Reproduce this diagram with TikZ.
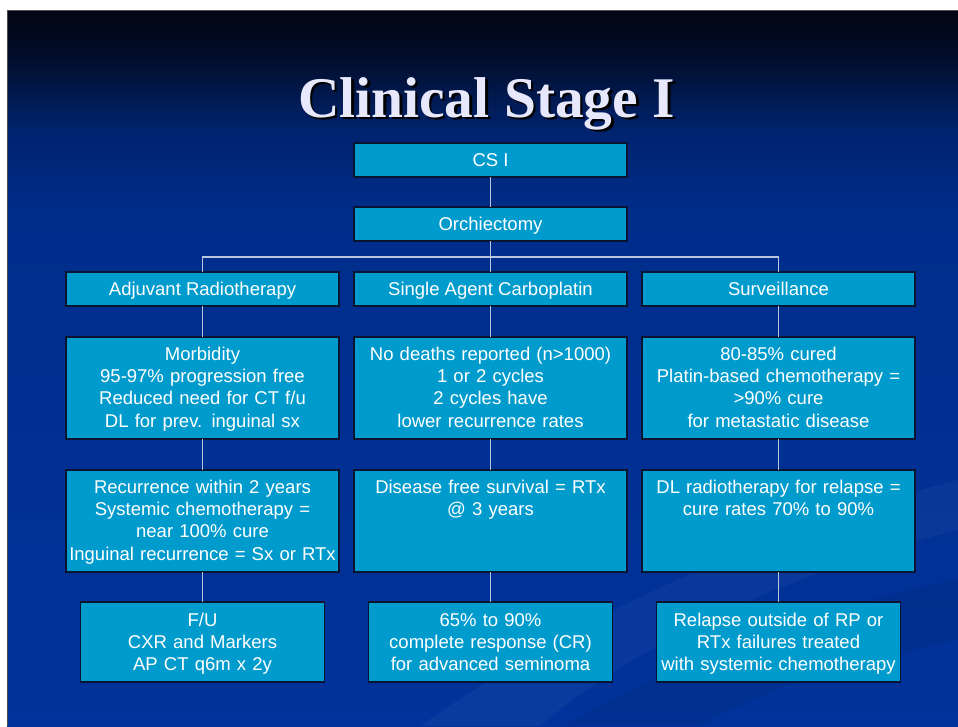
\documentclass[tikz,border=0pt]{standalone}
\usepackage{fontspec}
\setmainfont{Liberation Sans}
\newfontfamily\titlefont{Liberation Serif}
\usetikzlibrary{positioning}

\definecolor{boxblue}{RGB}{0,155,205}
\definecolor{boxline}{RGB}{8,20,50}
\definecolor{linkgray}{RGB}{185,196,222}
\definecolor{titlelav}{RGB}{232,232,252}
\definecolor{bgA}{RGB}{0,51,155}
\definecolor{bgB}{RGB}{0,45,140}
\definecolor{bgC}{RGB}{0,35,110}
\definecolor{bgD}{RGB}{2,14,45}
\definecolor{bgE}{RGB}{2,5,18}
\pgfdeclareverticalshading{slidebg}{100bp}{color(0bp)=(bgA); color(25bp)=(bgA); color(60.3bp)=(bgB); color(66.6bp)=(bgC); color(71.5bp)=(bgD); color(75bp)=(bgE); color(100bp)=(bgE)}

\tikzset{
  stage/.style={draw=boxline, line width=1.2pt, fill=boxblue, text=white,
    font=\fontsize{18.5}{22.2}\selectfont, align=center, inner xsep=2pt, inner ysep=0pt, outer sep=0pt},
  headbox/.style={stage, minimum width=273pt, text height=23.5pt, text depth=10.5pt},
  factbox/.style={stage, text width=269pt, text height=23.5pt, text depth=78.5pt},
  endbox/.style={stage, text width=240pt, text height=24pt, text depth=56pt},
  link/.style={draw=linkgray, line width=1.3pt},
  heading/.style={font=\titlefont\bfseries\fontsize{57.5}{60}\selectfont, anchor=base, inner sep=0pt}
}

\begin{document}
\begin{tikzpicture}[x=1pt, y=-1pt]
  \useasboundingbox (0,0) rectangle (958,726);
  \fill[white] (0,0) rectangle (958,726);
  % slide background
  \shade[shading=slidebg] (7,10) rectangle (958,726);
  \fill[white, opacity=0.035] (420,726) .. controls (600,600) and (800,520) .. (958,480) -- (958,530) .. controls (800,570) and (640,640) .. (540,726) -- cycle;
  \fill[black, opacity=0.06] (560,726) .. controls (700,650) and (850,600) .. (958,580) -- (958,640) .. controls (860,660) and (760,690) .. (700,726) -- cycle;
  \draw[gray!60!black, line width=1pt] (7,726) -- (7,10) -- (958,10);

  % title
  \node[heading, text=black] (titleshadow) at (489,119.5) {Clinical Stage I};
  \node[heading, text=titlelav] (title) at (486.5,117) {Clinical Stage I};

  % top of the tree
  \node[headbox] (csi) at (490.5,160) {CS I};
  \node[headbox, below=30pt of csi] (orch) {Orchiectomy};
  \node[headbox, below=31pt of orch] (carbo) {Single Agent Carboplatin};
  \node[headbox, left=15pt of carbo] (adj) {Adjuvant Radiotherapy};
  \node[headbox, right=15pt of carbo] (surv) {Surveillance};

  % second row
  \node[factbox, below=31pt of adj] (adjfacts) {Morbidity\\95-97\% progression free\\Reduced need for CT f/u\\DL for prev. inguinal sx};
  \node[factbox, below=31pt of carbo] (carbofacts) {No deaths reported (n>1000)\\1 or 2 cycles\\2 cycles have\\lower recurrence rates};
  \node[factbox, below=31pt of surv] (survfacts) {80-85\% cured\\Platin-based chemotherapy =\\>90\% cure\\for metastatic disease};

  % third row
  \node[factbox, below=31pt of adjfacts] (adjrec) {Recurrence within 2 years\\Systemic chemotherapy =\\near 100\% cure\\Inguinal recurrence = Sx or RTx};
  \node[factbox, below=31pt of carbofacts] (carbodfs) {Disease free survival = RTx\\@ 3 years};
  \node[factbox, below=31pt of survfacts] (survdl) {DL radiotherapy for relapse =\\cure rates 70\% to 90\%};

  % last row
  \node[endbox, below=30pt of adjrec] (adjfu) {F/U\\CXR and Markers\\AP CT q6m x 2y};
  \node[endbox, below=30pt of carbodfs] (carbocr) {65\% to 90\%\\complete response (CR)\\for advanced seminoma};
  \node[endbox, below=30pt of survdl] (survrel) {Relapse outside of RP or\\RTx failures treated\\with systemic chemotherapy};

  % connectors
  \coordinate (bus) at (490.5,257);
  \draw[link] (csi) -- (orch);
  \draw[link] (orch) -- (carbo);
  \draw[link] (adj.north) -- (adj.north |- bus) -- (surv.north |- bus) -- (surv.north);
  \foreach \col in {adj,carbo,surv}{
    \draw[link] (\col) -- (\col facts);
  }
  \draw[link] (adjfacts) -- (adjrec);
  \draw[link] (carbofacts) -- (carbodfs);
  \draw[link] (survfacts) -- (survdl);
  \draw[link] (adjrec) -- (adjfu);
  \draw[link] (carbodfs) -- (carbocr);
  \draw[link] (survdl) -- (survrel);
\end{tikzpicture}
\end{document}
